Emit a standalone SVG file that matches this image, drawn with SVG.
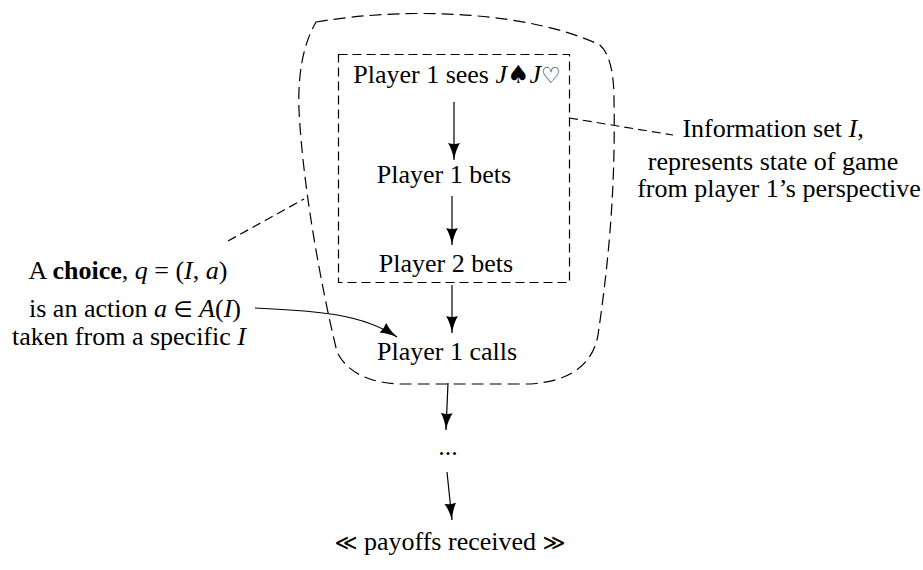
<svg xmlns="http://www.w3.org/2000/svg" width="923" height="570" viewBox="0 0 923 570">
<style>
text{font-family:"Liberation Serif","DejaVu Serif",serif;font-size:26px;fill:#000;text-anchor:middle}
.m{font-style:italic}
.sym{font-family:"DejaVu Sans",sans-serif;font-style:normal;font-size:22px}
.big{font-size:25px}
.dash{fill:none;stroke:#000;stroke-width:1.2;stroke-dasharray:9 5}
.dash2{fill:none;stroke:#000;stroke-width:1.2;stroke-dasharray:12 6}
.edge{fill:none;stroke:#000;stroke-width:1.2;marker-end:url(#ah)}
</style>
<defs>
<marker id="ah" markerUnits="userSpaceOnUse" markerWidth="18" markerHeight="12" refX="17" refY="6" orient="auto">
<path d="M0,0 Q6,4 17,6 Q6,8 0,12 Q2,6 0,0 Z" fill="#000"/>
</marker>
</defs>
<g id="outer-blob">
<path class="dash2" d="M316,22 C410,6 530,12 600,45 Q614,58 614,100 C616,200 606,280 598,335 Q590,380 530,384 L400,384 Q352,382 337,352 C322,290 303,190 299,110 Q297,55 316,22 Z"/>
</g>
<g id="info-set">
<rect class="dash" x="338.5" y="54.5" width="231" height="228"/>
</g>
<g id="connectors">
<line class="edge" x1="454" y1="102" x2="454" y2="160"/>
<line class="edge" x1="452" y1="196" x2="452" y2="245"/>
<line class="edge" x1="452" y1="285" x2="452" y2="333"/>
<line class="edge" x1="448" y1="383" x2="446" y2="430"/>
<line class="edge" x1="447" y1="472" x2="452" y2="520"/>
<path class="edge" d="M255,308 C320,311 362,314 397,337"/>
<line class="dash" x1="228" y1="241" x2="304" y2="199"/>
<line class="dash" x1="569" y1="118" x2="673" y2="135"/>
</g>
<g id="n-sees"><text x="457" y="83">Player 1 sees <tspan class="m">J</tspan><tspan class="sym big">♠</tspan><tspan class="m">J</tspan><tspan class="sym">♡</tspan></text></g>
<g id="n-p1bets"><text x="444" y="183">Player 1 bets</text></g>
<g id="n-p2bets"><text x="446" y="272">Player 2 bets</text></g>
<g id="n-calls"><text x="447" y="360">Player 1 calls</text></g>
<g id="n-dots"><text x="448" y="455">...</text></g>
<g id="n-payoffs"><text x="450" y="550"><tspan class="sym">≪</tspan> payoffs received <tspan class="sym">≫</tspan></text></g>
<g id="label-infoset">
<text x="773" y="137">Information set <tspan class="m">I</tspan>,</text>
<text x="773" y="170">represents state of game</text>
<text x="779" y="197">from player 1’s perspective</text>
</g>
<g id="label-choice">
<text x="128" y="279">A <tspan font-weight="bold">choice</tspan>, <tspan class="m">q</tspan> = (<tspan class="m">I</tspan>, <tspan class="m">a</tspan>)</text>
<text x="135" y="317">is an action <tspan class="m">a</tspan> <tspan class="sym">∈</tspan> <tspan class="m">A</tspan>(<tspan class="m">I</tspan>)</text>
<text x="129" y="345">taken from a specific <tspan class="m">I</tspan></text>
</g>
</svg>
